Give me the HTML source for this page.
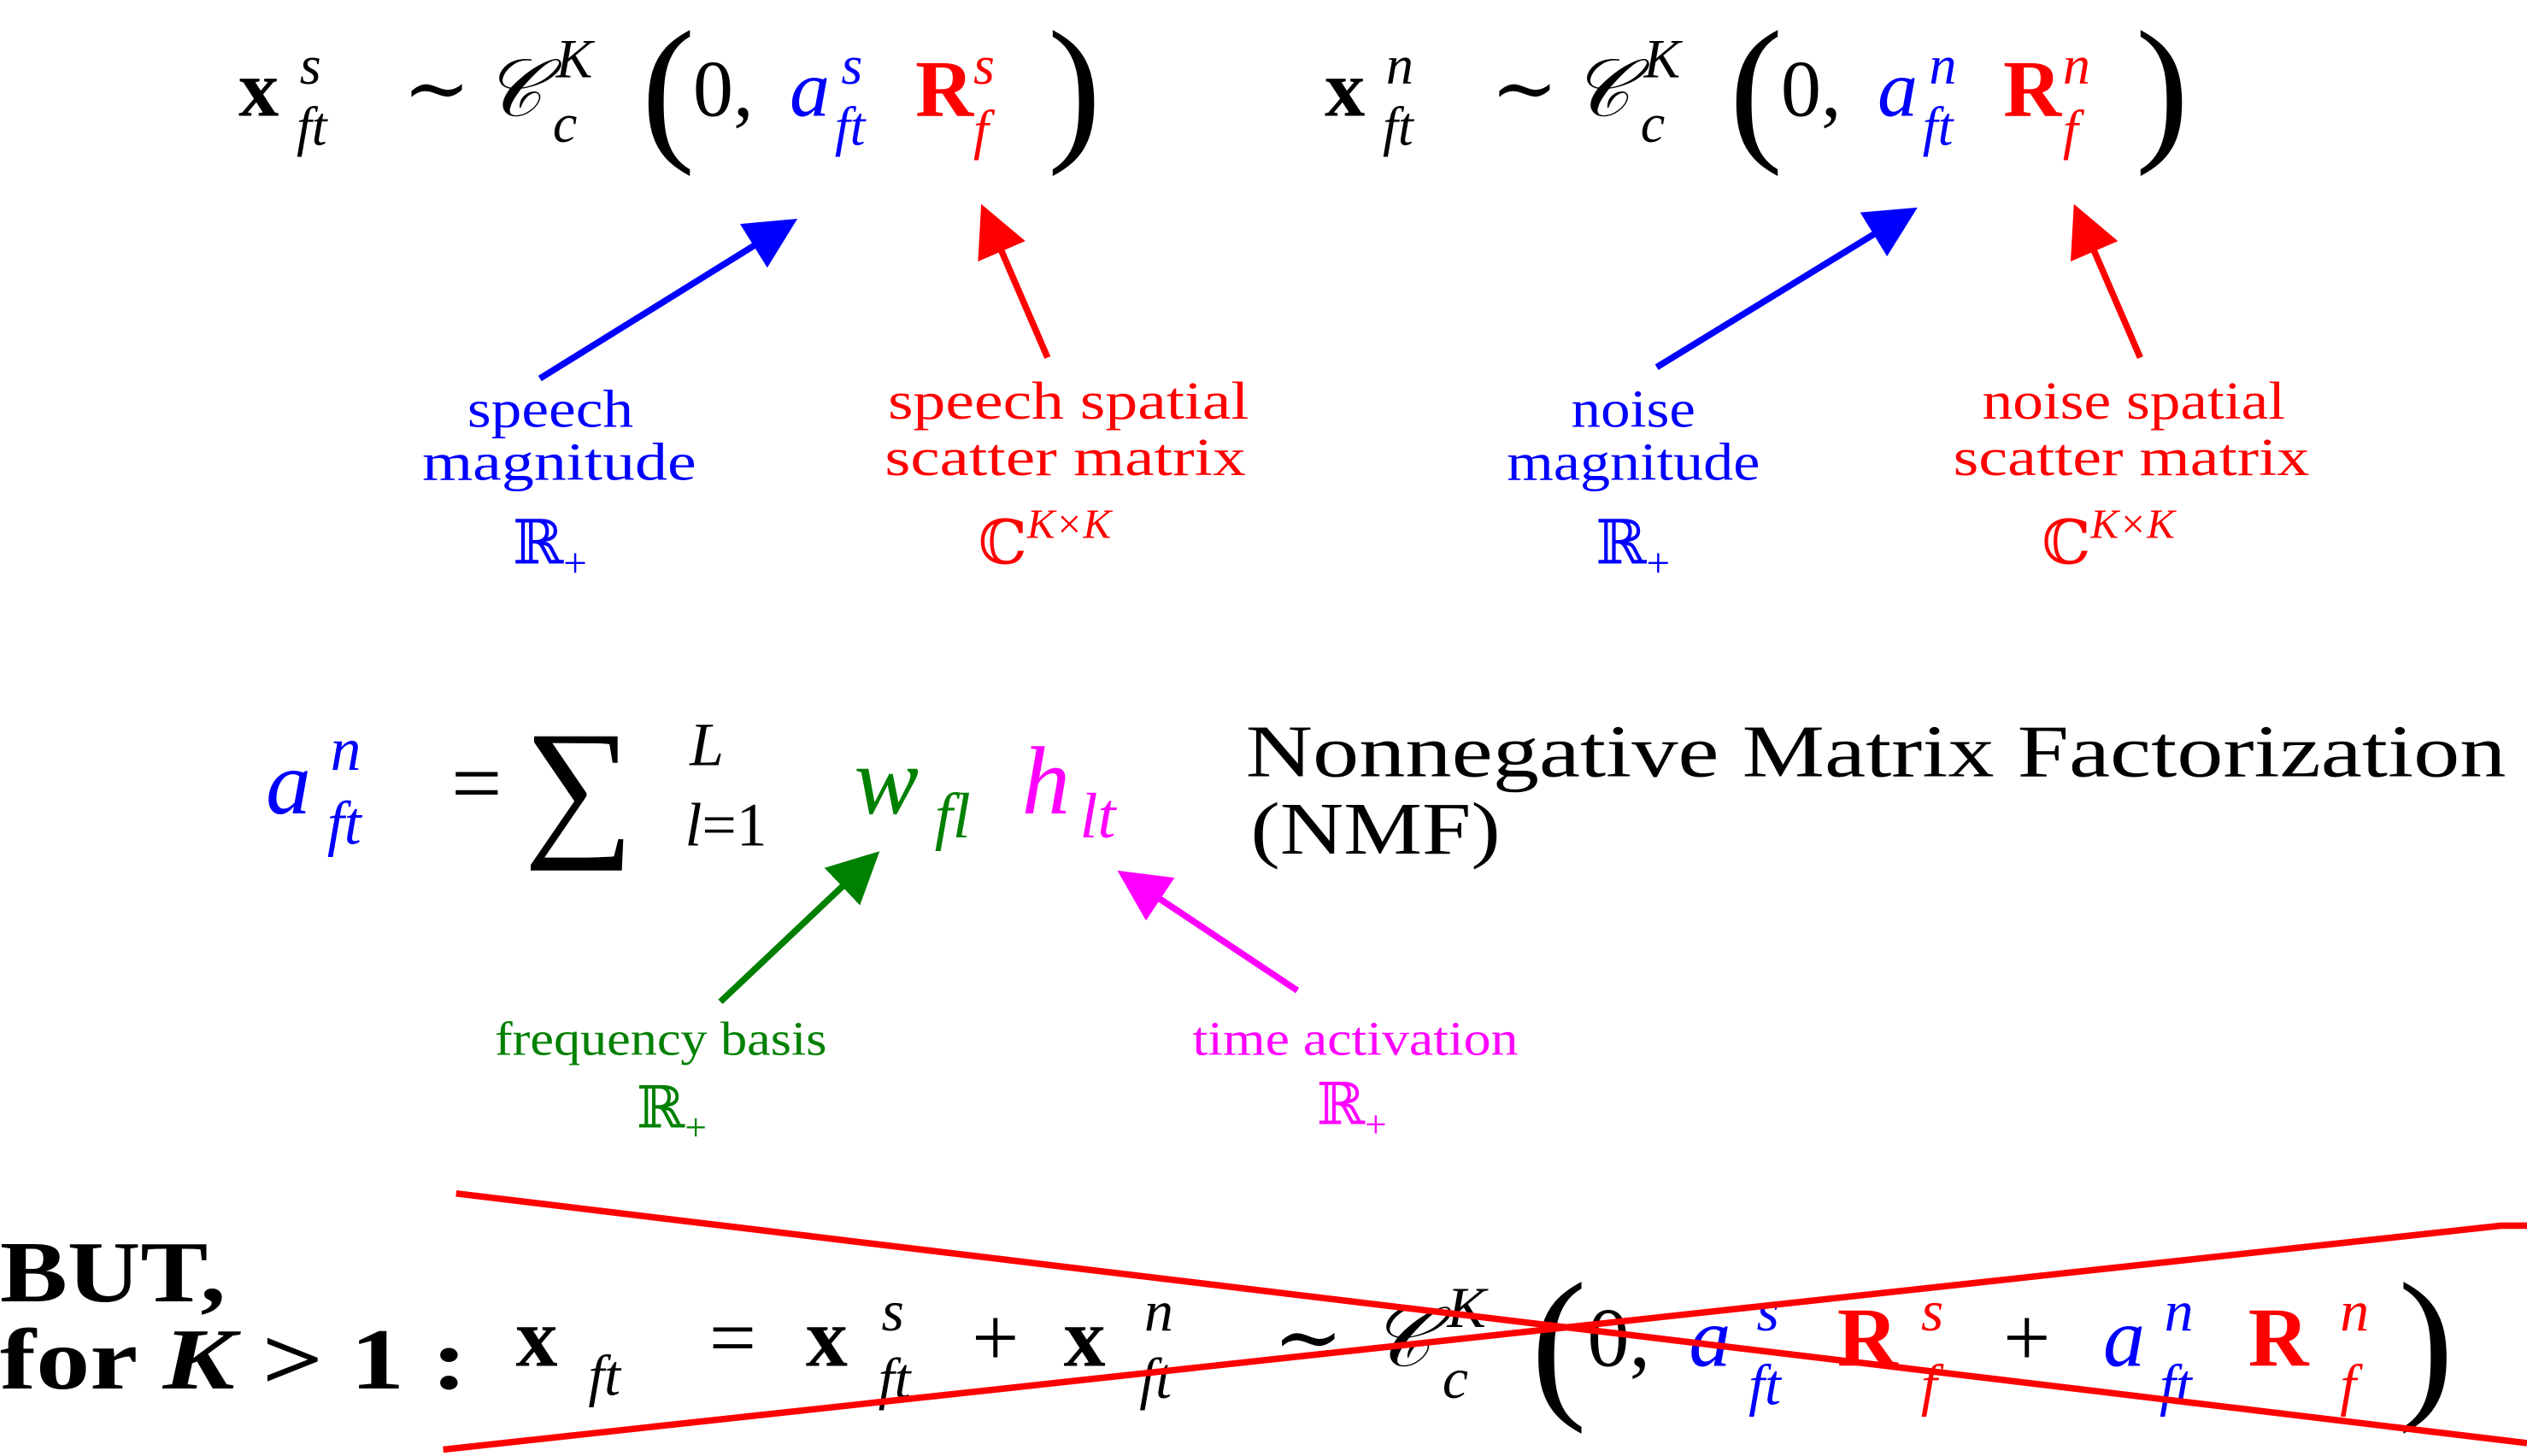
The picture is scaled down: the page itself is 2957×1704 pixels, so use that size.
<!DOCTYPE html>
<html><head><meta charset="utf-8">
<style>
html,body{margin:0;padding:0;background:#fff;}
svg{display:block;}
text{font-family:"Liberation Serif","DejaVu Serif",serif;}
.b{fill:#0000ff}.r{fill:#ff0000}.g{fill:#008000}.m{fill:#ff00ff}.k{fill:#000}
.it{font-style:italic}.bd{font-weight:bold}
</style></head>
<body>
<svg width="2957" height="1704" viewBox="0 0 1568 904" preserveAspectRatio="none" xmlns="http://www.w3.org/2000/svg">
<defs>
<marker id="hb" markerWidth="8" markerHeight="8" refX="6" refY="4" orient="auto" markerUnits="strokeWidth"><path d="M0,0 L8,4 L0,8 Z" fill="#0000ff"/></marker>
<marker id="hr" markerWidth="8" markerHeight="8" refX="6" refY="4" orient="auto" markerUnits="strokeWidth"><path d="M0,0 L8,4 L0,8 Z" fill="#ff0000"/></marker>
<marker id="hg" markerWidth="8" markerHeight="8" refX="6" refY="4" orient="auto" markerUnits="strokeWidth"><path d="M0,0 L8,4 L0,8 Z" fill="#008000"/></marker>
<marker id="hm" markerWidth="8" markerHeight="8" refX="6" refY="4" orient="auto" markerUnits="strokeWidth"><path d="M0,0 L8,4 L0,8 Z" fill="#ff00ff"/></marker>
</defs>

<!-- Equation 1 -->
<g font-size="50">
<text x="148" y="72" class="k bd">x</text>
<text x="186" y="52" class="k it" font-size="34">s</text>
<text x="184" y="90" class="k it" font-size="34">ft</text>
<text x="250" y="72" class="k">∼</text>
<text x="300" y="72" class="k it">𝒞</text>
<text x="345" y="48" class="k it" font-size="34">K</text>
<text x="343" y="88" class="k it" font-size="34">c</text>
<text x="398" y="88" class="k" font-size="100">(</text>
<text x="430" y="72" class="k">0,</text>
<text x="490" y="72" class="b it">a</text>
<text x="522" y="52" class="b it" font-size="34">s</text>
<text x="518" y="90" class="b it" font-size="34">ft</text>
<text x="568" y="72" class="r bd">R</text>
<text x="604" y="52" class="r it" font-size="34">s</text>
<text x="604" y="92" class="r it" font-size="34">f</text>
<text x="650" y="88" class="k" font-size="100">)</text>
</g>
<!-- Equation 2 -->
<g font-size="50">
<text x="822" y="72" class="k bd">x</text>
<text x="860" y="52" class="k it" font-size="34">n</text>
<text x="858" y="90" class="k it" font-size="34">ft</text>
<text x="925" y="72" class="k">∼</text>
<text x="975" y="72" class="k it">𝒞</text>
<text x="1020" y="48" class="k it" font-size="34">K</text>
<text x="1018" y="88" class="k it" font-size="34">c</text>
<text x="1073" y="88" class="k" font-size="100">(</text>
<text x="1105" y="72" class="k">0,</text>
<text x="1165" y="72" class="b it">a</text>
<text x="1197" y="52" class="b it" font-size="34">n</text>
<text x="1193" y="90" class="b it" font-size="34">ft</text>
<text x="1243" y="72" class="r bd">R</text>
<text x="1280" y="52" class="r it" font-size="34">n</text>
<text x="1280" y="92" class="r it" font-size="34">f</text>
<text x="1325" y="88" class="k" font-size="100">)</text>
</g>

<!-- Arrows top -->
<line x1="335" y1="235" x2="488" y2="140" stroke="#0000ff" stroke-width="4" marker-end="url(#hb)"/>
<line x1="650" y1="222" x2="612" y2="134" stroke="#ff0000" stroke-width="4" marker-end="url(#hr)"/>
<line x1="1028" y1="228" x2="1183" y2="133" stroke="#0000ff" stroke-width="4" marker-end="url(#hb)"/>
<line x1="1328" y1="222" x2="1290" y2="134" stroke="#ff0000" stroke-width="4" marker-end="url(#hr)"/>

<!-- Labels top -->
<g font-size="33">
<text class="b"><tspan x="290" y="265" textLength="103" lengthAdjust="spacingAndGlyphs">speech</tspan><tspan x="262" y="298" textLength="170" lengthAdjust="spacingAndGlyphs">magnitude</tspan></text>
<text class="b" x="318" y="350" font-size="38">ℝ<tspan font-size="26" dy="8">+</tspan></text>
<text class="r"><tspan x="551" y="260" textLength="224" lengthAdjust="spacingAndGlyphs">speech spatial</tspan><tspan x="549" y="295" textLength="224" lengthAdjust="spacingAndGlyphs">scatter matrix</tspan></text>
<text class="r" x="607" y="350" font-size="38">ℂ<tspan font-size="26" dy="-16" font-style="italic">K×K</tspan></text>
<text class="b"><tspan x="975" y="265" textLength="77" lengthAdjust="spacingAndGlyphs">noise</tspan><tspan x="935" y="298" textLength="157" lengthAdjust="spacingAndGlyphs">magnitude</tspan></text>
<text class="b" x="990" y="350" font-size="38">ℝ<tspan font-size="26" dy="8">+</tspan></text>
<text class="r"><tspan x="1230" y="260" textLength="188" lengthAdjust="spacingAndGlyphs">noise spatial</tspan><tspan x="1212" y="295" textLength="221" lengthAdjust="spacingAndGlyphs">scatter matrix</tspan></text>
<text class="r" x="1267" y="350" font-size="38">ℂ<tspan font-size="26" dy="-16" font-style="italic">K×K</tspan></text>
</g>

<!-- NMF equation -->
<g font-size="56">
<text x="165" y="505" class="b it">a</text>
<text x="205" y="478" class="b it" font-size="38">n</text>
<text x="203" y="524" class="b it" font-size="38">ft</text>
<text x="280" y="505" class="k">=</text>
<text x="325" y="520" class="k" font-size="96">∑</text>
<text x="428" y="475" class="k it" font-size="38">L</text>
<text x="425" y="525" class="k" font-size="38"><tspan font-style="italic">l</tspan>=1</text>
<text x="530" y="505" class="g it" font-size="60">w</text>
<text x="580" y="520" class="g it" font-size="40">fl</text>
<text x="634" y="505" class="m it" font-size="60">h</text>
<text x="670" y="520" class="m it" font-size="40">lt</text>
</g>
<text font-size="46" class="k"><tspan x="773" y="482" textLength="782" lengthAdjust="spacingAndGlyphs">Nonnegative Matrix Factorization</tspan><tspan x="776" y="530" textLength="155" lengthAdjust="spacingAndGlyphs">(NMF)</tspan></text>

<line x1="447" y1="622" x2="540" y2="534" stroke="#008000" stroke-width="4" marker-end="url(#hg)"/>
<line x1="805" y1="615" x2="700" y2="545" stroke="#ff00ff" stroke-width="4" marker-end="url(#hm)"/>

<g font-size="30">
<text class="g" x="307" y="655" textLength="206" lengthAdjust="spacingAndGlyphs">frequency basis</text>
<text class="g" x="395" y="700" font-size="36">ℝ<tspan font-size="24" dy="8">+</tspan></text>
<text class="m" x="740" y="655" textLength="202" lengthAdjust="spacingAndGlyphs">time activation</text>
<text class="m" x="817" y="698" font-size="36">ℝ<tspan font-size="24" dy="8">+</tspan></text>
</g>

<!-- Bottom -->
<text class="k bd" font-size="54"><tspan x="0" y="808" textLength="140" lengthAdjust="spacingAndGlyphs">BUT,</tspan><tspan x="0" y="862" textLength="290" lengthAdjust="spacingAndGlyphs">for <tspan font-style="italic">K</tspan> &gt; 1 :</tspan></text>
<g font-size="52">
<text x="320" y="848" class="k bd">x</text>
<text x="365" y="866" class="k it" font-size="36">ft</text>
<text x="440" y="848" class="k">=</text>
<text x="500" y="848" class="k bd">x</text>
<text x="547" y="826" class="k it" font-size="36">s</text>
<text x="545" y="868" class="k it" font-size="36">ft</text>
<text x="603" y="848" class="k">+</text>
<text x="660" y="848" class="k bd">x</text>
<text x="710" y="826" class="k it" font-size="36">n</text>
<text x="707" y="868" class="k it" font-size="36">ft</text>
<text x="790" y="848" class="k">∼</text>
<text x="850" y="848" class="k it">𝒞</text>
<text x="898" y="824" class="k it" font-size="36">K</text>
<text x="895" y="868" class="k it" font-size="36">c</text>
<text x="950" y="868" class="k" font-size="104">(</text>
<text x="985" y="848" class="k">0,</text>
<text x="1048" y="848" class="b it">a</text>
<text x="1090" y="826" class="b it" font-size="36">s</text>
<text x="1085" y="872" class="b it" font-size="36">ft</text>
<text x="1140" y="848" class="r bd">R</text>
<text x="1192" y="826" class="r it" font-size="36">s</text>
<text x="1192" y="872" class="r it" font-size="36">f</text>
<text x="1243" y="848" class="k">+</text>
<text x="1305" y="848" class="b it">a</text>
<text x="1343" y="826" class="b it" font-size="36">n</text>
<text x="1340" y="872" class="b it" font-size="36">ft</text>
<text x="1395" y="848" class="r bd">R</text>
<text x="1452" y="826" class="r it" font-size="36">n</text>
<text x="1452" y="872" class="r it" font-size="36">f</text>
<text x="1488" y="868" class="k" font-size="104">)</text>
</g>
<line x1="283" y1="741" x2="1568" y2="896" stroke="#ff0000" stroke-width="4"/>
<polyline points="275,900 1552,761 1568,761" fill="none" stroke="#ff0000" stroke-width="4"/>
</svg>
</body></html>
